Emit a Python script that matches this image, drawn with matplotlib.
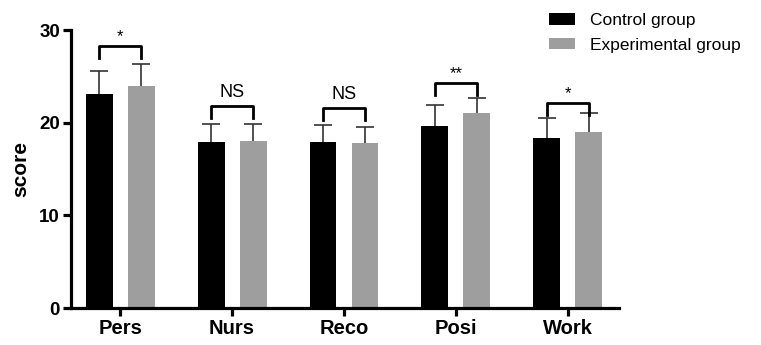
import numpy as np
import matplotlib
matplotlib.use('Agg')
from matplotlib import pyplot as plt

plt.rcParams['font.family'] = ['Liberation Sans', 'DejaVu Sans']

categories = ['Pers', 'Nurs', 'Reco', 'Posi', 'Work']
control_mean = [23.1, 17.9, 17.9, 19.6, 18.3]
control_sd = [2.5, 2.0, 1.8, 2.3, 2.2]
exp_mean = [24.0, 18.0, 17.8, 21.0, 19.0]
exp_sd = [2.3, 1.9, 1.7, 1.7, 2.1]
sig_labels = ['*', 'NS', 'NS', '**', '*']
bracket_y = [28.3, 21.8, 21.6, 24.3, 22.1]

x = np.arange(len(categories))
w = 0.24
off = 0.1875

fig = plt.figure(figsize=(7.61, 3.45), dpi=100)
ax = fig.add_axes([0.0933, 0.107, 0.7197, 0.806])

ax.bar(x - off, control_mean, w, color='black', label='Control group')
ax.bar(x + off, exp_mean, w, color='#9e9e9e', label='Experimental group')

# upper error bars only (stem + cap)
for pos, m, sd in [(x - off, control_mean, control_sd), (x + off, exp_mean, exp_sd)]:
    top = np.array(m) + np.array(sd)
    ax.vlines(pos, m, top, color='#333333', lw=1.2)
    ax.plot(pos, top, ls='none', marker='_', ms=13, mew=1.2, color='#333333')

# significance brackets
for i in range(len(x)):
    y = bracket_y[i]
    ax.plot([x[i] - off, x[i] - off, x[i] + off, x[i] + off],
            [y - 1.3, y, y, y - 1.3], color='black', lw=2, clip_on=False)
    if sig_labels[i] == 'NS':
        ax.text(x[i], y + 0.5, 'NS', ha='center', va='bottom', fontsize=13)
    else:
        ax.text(x[i], y + 0.2, sig_labels[i], ha='center', va='bottom', fontsize=12)

ax.set_xlim(-0.44, 4.455)
ax.set_ylim(0, 30)
ax.set_yticks([0, 10, 20, 30])
ax.set_xticks(x)
ax.set_xticklabels(categories, fontsize=14.5, fontweight='bold')
for t in ax.get_yticklabels():
    t.set_fontsize(13.5)
    t.set_fontweight('bold')
ax.set_ylabel('score', fontsize=15, fontweight='bold', labelpad=6)

for s in ['top', 'right']:
    ax.spines[s].set_visible(False)
for s in ['left', 'bottom']:
    ax.spines[s].set_linewidth(2.3)
ax.tick_params(width=2.3, length=6, pad=2)

fig.legend(loc='upper left', bbox_to_anchor=(0.722, 0.962), frameon=False,
           fontsize=12.5, handlelength=1.5, handleheight=0.65,
           handletextpad=0.85, labelspacing=0.55, borderpad=0, borderaxespad=0)

fig.savefig('out.png', dpi=100)
